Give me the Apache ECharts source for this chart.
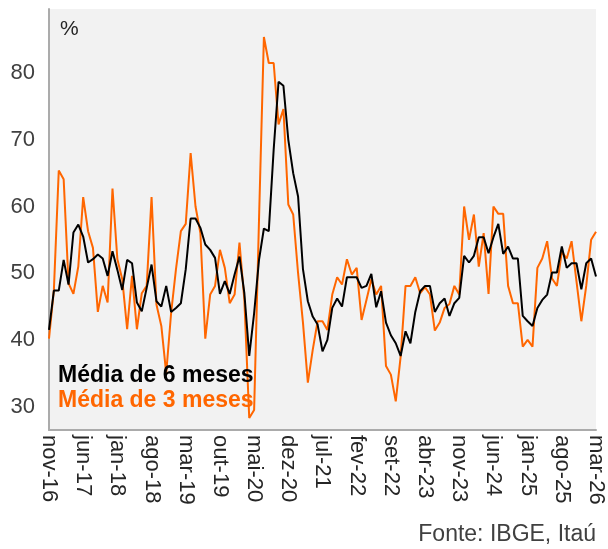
<!DOCTYPE html>
<html>
<head>
<meta charset="utf-8">
<script src="https://cdn.jsdelivr.net/npm/echarts@6/dist/echarts.min.js"></script>
<style>
  html, body { margin: 0; padding: 0; background: #fff; }
  #chart { width: 608px; height: 549px; }
</style>
</head>
<body>
<div id="chart"></div>
<script>
  // meses em portugues, série começa em nov-16 e vai até mar-26
  const mesesPt = ['jan', 'fev', 'mar', 'abr', 'mai', 'jun', 'jul', 'ago', 'set', 'out', 'nov', 'dez'];
  const inicioAno = 2016;
  const inicioMes = 10; // nov
  const totalMeses = 113;

  // média móvel de 6 meses (%)
  const media6 = [
    41.5, 47.4, 47.4, 52, 48.3, 56.1, 57.3, 55.5, 51.6, 52.1, 52.8, 52.2, 49.6, 53.3, 50.5, 47.5, 52, 51.5, 45.6, 44.3, 47.8, 51.3,
    45.8, 45, 48.1, 44.2, 44.8, 45.5, 50.6, 58.2, 58.2, 56.8, 54.3, 53.5, 52.3, 46.9, 48.8, 46.9, 49.8, 52.5, 47, 37.6, 44,
    52, 56.7, 56.3, 68.5, 78.7, 78.1, 70, 65, 61.5, 50.6, 45.8, 43.5, 42.3, 38.3, 40, 44.8, 46.2, 45, 49.4, 49.4, 49.4, 47.8,
    48.1, 49.9, 44.9, 47.3, 42.6, 40.7, 39.5, 37.6, 41.3, 39.5, 44.2, 47.3, 48.1, 48.1, 44.2, 45.5, 46.2, 43.6, 45.5, 46.3,
    52.6, 51.6, 52.6, 55.4, 55.4, 53, 55.4, 57.4, 52.9, 54, 52.2, 52.2, 43.6, 42.8, 42.1, 44.8, 46, 46.8, 50.1, 50.1, 54, 50.8,
    51.5, 51.5, 47.6, 51.5, 52.2, 49.5
  ];

  // média móvel de 3 meses (%)
  const media3 = [
    40.2, 47.5, 65.4, 64.1, 48.5, 46.9, 51, 61.4, 56.3, 53.8, 44.2, 48.1, 45.6, 62.7, 52.1, 49.1, 41.6, 49.6, 41.6, 47, 48.1, 61.4,
    45.3, 42.1, 35, 44, 50.6, 56.3, 57.4, 68, 60, 56, 40.2, 46.8, 48.1, 53.5, 50.8, 45.5, 46.8, 54.6, 46, 28.3, 29.5, 58,
    85.4, 81.5, 81.5, 72.3, 74.6, 60.3, 58.8, 50, 42.6, 33.6, 38.5, 42.8, 42.8, 41.5, 46.8, 49.4, 48.3, 52.1, 49.8, 50.8, 43,
    46, 49.1, 46.8, 48.1, 36.1, 34.8, 30.8, 37.5, 48.1, 48.1, 49.4, 47, 47.9, 46.8, 41.4, 42.6, 44.8, 45.4, 48.1, 46.8,
    60, 55, 58.8, 51, 56, 46.9, 60, 58.9, 58.9, 48.1, 45.5, 45.5, 39, 40, 39, 50.8, 52.2, 54.8, 49.2, 48.1, 53.2, 52.2,
    54.8, 48.8, 42.8, 48.1, 55, 56.2
  ];

  const yTicks = [30, 40, 50, 60, 70, 80];

  let categorias = [];
  for (let i = 0; i < totalMeses; i++) {
    let m = inicioMes + i;
    let ano = inicioAno + Math.floor(m / 12);
    categorias.push(mesesPt[m % 12] + '-' + String(ano).slice(2));
  }

  let chart = echarts.init(document.getElementById('chart'));
  chart.setOption({
    animation: false,
    textStyle: { fontFamily: 'Liberation Sans, Arial, sans-serif' },
    grid: {
      show: true,
      left: 49,
      right: 12,
      top: 9,
      bottom: 119,
      backgroundColor: '#f2f2f2',
      borderWidth: 0
    },
    legend: {
      orient: 'vertical',
      left: 48,
      top: 359,
      icon: 'none',
      itemWidth: 0,
      itemHeight: 0,
      itemGap: 1,
      selectedMode: false,
      data: [
        { name: 'Média de 6 meses', textStyle: { color: '#000' } },
        { name: 'Média de 3 meses', textStyle: { color: '#ff6600' } }
      ],
      textStyle: { fontSize: 23, fontWeight: 'bold', lineHeight: 24 }
    },
    xAxis: {
      type: 'category',
      data: categorias,
      boundaryGap: false,
      axisLine: { lineStyle: { color: '#ababab', width: 2 } },
      axisTick: { show: false },
      axisLabel: {
        interval: 6,
        rotate: -90,
        margin: 5,
        color: '#262626',
        fontSize: 22
      }
    },
    yAxis: {
      type: 'value',
      min: 26.5,
      max: 89.6,
      splitLine: { show: false },
      axisLine: { show: true, lineStyle: { color: '#ababab', width: 2 } },
      axisTick: { show: false },
      axisLabel: {
        customValues: yTicks,
        margin: 14,
        color: '#404040',
        fontSize: 22
      }
    },
    graphic: [
      {
        type: 'text',
        left: 60,
        top: 19,
        style: { text: '%', fontSize: 21, fill: '#262626', fontFamily: 'Liberation Sans, Arial, sans-serif' }
      },
      {
        type: 'text',
        right: 12,
        bottom: 3,
        style: { text: 'Fonte: IBGE, Itaú', fontSize: 23, fill: '#404040', fontFamily: 'Liberation Sans, Arial, sans-serif' }
      }
    ],
    series: [
      {
        name: 'Média de 3 meses',
        type: 'line',
        data: media3,
        symbol: 'none',
        lineStyle: { color: '#ff6600', width: 2 },
        itemStyle: { color: '#ff6600' }
      },
      {
        name: 'Média de 6 meses',
        type: 'line',
        data: media6,
        symbol: 'none',
        lineStyle: { color: '#000', width: 2 },
        itemStyle: { color: '#000' }
      }
    ]
  });
</script>
</body>
</html>
